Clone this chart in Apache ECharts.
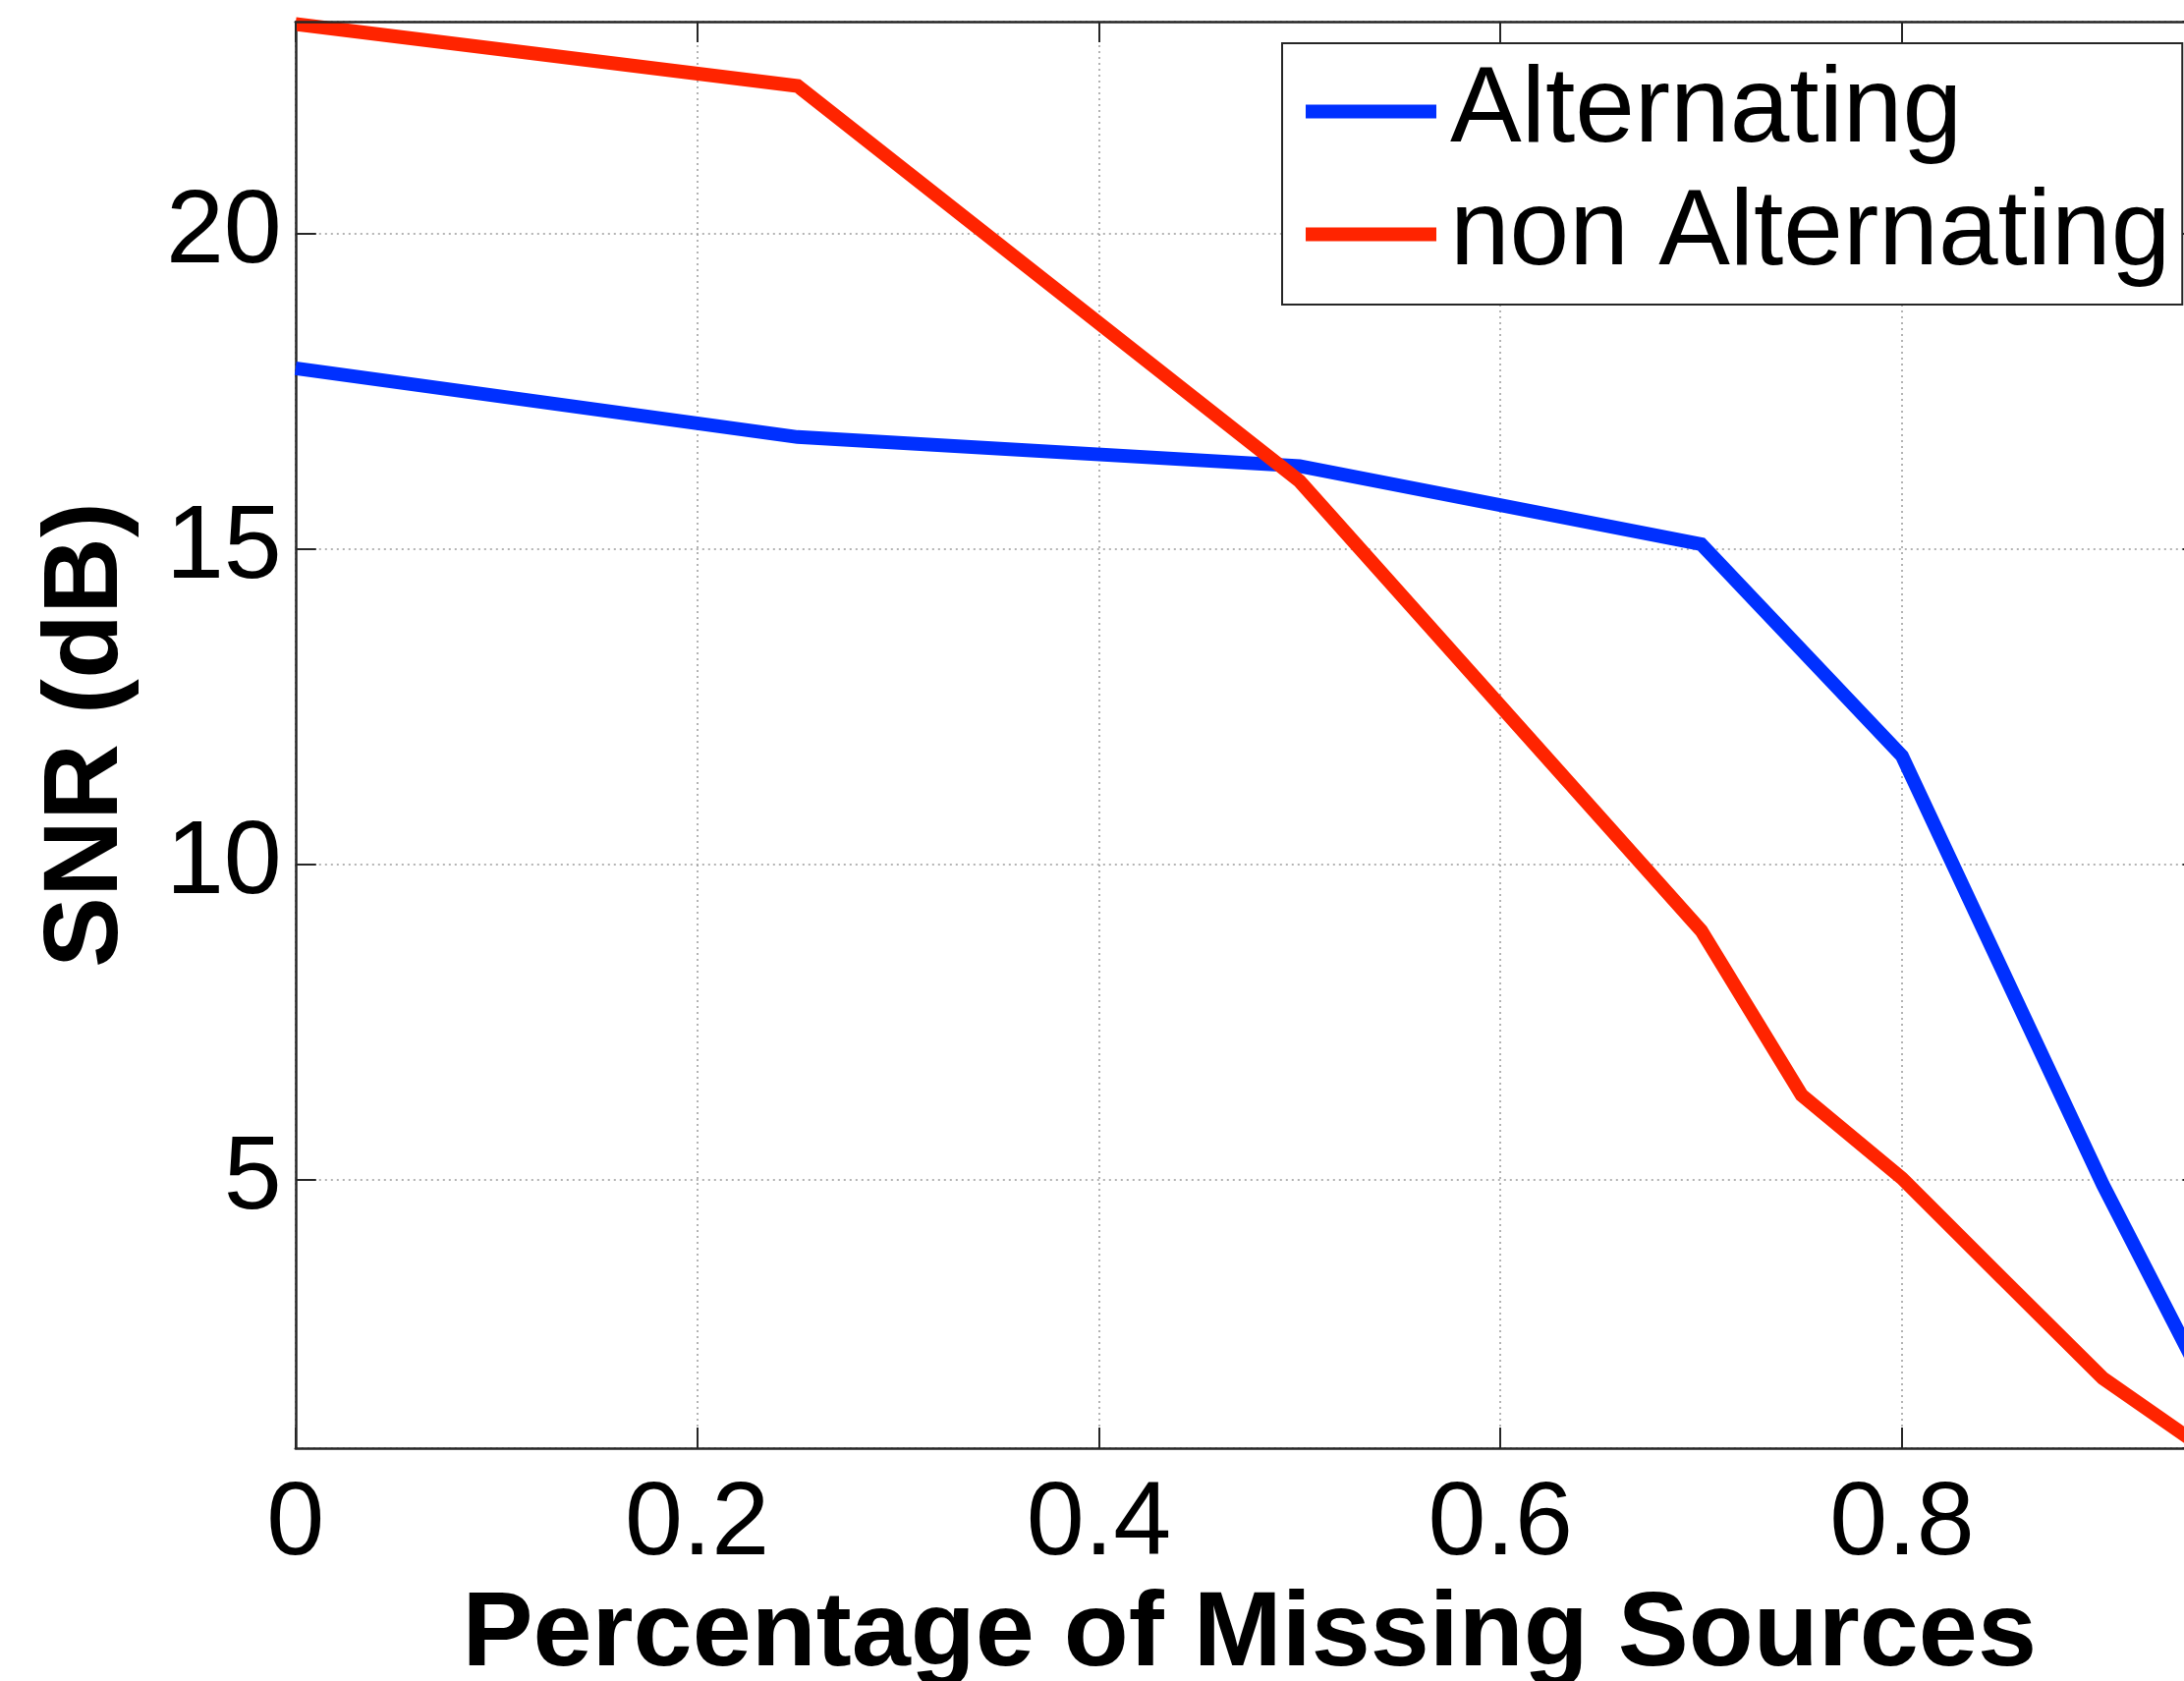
<!DOCTYPE html>
<html>
<head>
<meta charset="utf-8">
<title>SNR vs. percentage of missing sources</title>
<script src="https://cdn.jsdelivr.net/npm/echarts@6/dist/echarts.min.js"></script>
<style>
  html, body { margin: 0; padding: 0; background: #ffffff; }
  #chart { width: 2223px; height: 1711px; }
</style>
</head>
<body>
<div id="chart"></div>
<script>
// Fraction of missing sources at each breakpoint of the curves
const alternatingX = [0, 0.25, 0.5, 0.7, 0.8, 0.9, 0.95];
const alternatingSNR = [17.87, 16.78, 16.32, 15.08, 11.72, 4.92, 1.82];

const nonAlternatingX = [0, 0.25, 0.5, 0.7, 0.75, 0.8, 0.85, 0.9, 0.95];
const nonAlternatingSNR = [23.33, 22.35, 16.08, 8.95, 6.34, 5.02, 3.43, 1.85, 0.74];

const seriesNames = ['Alternating', 'non Alternating'];
const seriesColors = ['#0030ff', '#ff2400'];

// Axis extents (tight to the data)
const xExtent = [0, 0.95];
const yExtent = [0.74, 23.37];

const axisTitleX = 'Percentage of Missing Sources';
const axisTitleY = 'SNR (dB)';

const FONT = '"Liberation Sans", Arial, Helvetica, sans-serif';
const AXIS_COLOR = '#262626';
const GRID_COLOR = '#9a9a9a';

function pairs(xs, ys) {
  return xs.map((x, i) => [x, ys[i]]);
}

// Box-style axis pieces: fresh objects for every axis
function boxAxisLine() {
  return { show: true, onZero: false, lineStyle: { color: AXIS_COLOR, width: 2.5 } };
}
function boxAxisTick() {
  return { show: true, inside: true, length: 21, lineStyle: { color: AXIS_COLOR, width: 2 } };
}
function dottedGrid() {
  return { show: true, lineStyle: { color: GRID_COLOR, width: 1.5, type: [2, 4] } };
}

const chart = echarts.init(document.getElementById('chart'), null, { renderer: 'canvas' });

chart.setOption({
  animation: false,
  backgroundColor: '#ffffff',
  textStyle: { fontFamily: FONT },
  // The plot box runs slightly past the right edge of the canvas
  grid: {
    left: 300.8,
    top: 22,
    width: 1941.8,
    height: 1452,
    containLabel: false,
    outerBoundsMode: 'none'
  },
  legend: {
    data: seriesNames,
    orient: 'vertical',
    left: 1305,
    top: 44,
    padding: [15, 12, 17, 24],
    itemGap: 16,
    itemWidth: 133,
    itemHeight: 14,
    icon: 'rect',
    backgroundColor: '#ffffff',
    borderColor: AXIS_COLOR,
    borderWidth: 2,
    borderRadius: 0,
    textStyle: {
      fontFamily: FONT,
      fontSize: 109,
      lineHeight: 109,
      color: '#000000',
      padding: [0, 0, 0, 9]
    }
  },
  xAxis: [
    {
      type: 'value',
      position: 'bottom',
      min: xExtent[0],
      max: xExtent[1],
      axisLine: boxAxisLine(),
      axisTick: boxAxisTick(),
      splitLine: dottedGrid(),
      axisLabel: {
        show: true,
        fontFamily: FONT,
        fontSize: 106,
        color: '#000000',
        margin: 26,
        showMaxLabel: false
      },
      name: axisTitleX,
      nameLocation: 'middle',
      nameGap: 118,
      nameTextStyle: {
        fontFamily: FONT,
        fontSize: 108,
        fontWeight: 'bold',
        color: '#000000'
      }
    },
    {
      type: 'value',
      position: 'top',
      min: xExtent[0],
      max: xExtent[1],
      z: 10,
      axisLine: boxAxisLine(),
      axisTick: boxAxisTick(),
      axisLabel: { show: false },
      splitLine: { show: false }
    }
  ],
  yAxis: [
    {
      type: 'value',
      position: 'left',
      min: yExtent[0],
      max: yExtent[1],
      axisLine: boxAxisLine(),
      axisTick: boxAxisTick(),
      splitLine: dottedGrid(),
      axisLabel: {
        show: true,
        fontFamily: FONT,
        fontSize: 106,
        color: '#000000',
        margin: 14,
        showMinLabel: false,
        showMaxLabel: false
      },
      name: axisTitleY,
      nameLocation: 'middle',
      nameGap: 158,
      nameTextStyle: {
        fontFamily: FONT,
        fontSize: 108,
        fontWeight: 'bold',
        color: '#000000'
      }
    },
    {
      type: 'value',
      position: 'right',
      min: yExtent[0],
      max: yExtent[1],
      z: 10,
      axisLine: boxAxisLine(),
      axisTick: boxAxisTick(),
      axisLabel: { show: false },
      splitLine: { show: false }
    }
  ],
  series: [
    {
      name: seriesNames[0],
      type: 'line',
      xAxisIndex: 0,
      yAxisIndex: 0,
      data: pairs(alternatingX, alternatingSNR),
      symbol: 'none',
      showSymbol: false,
      color: seriesColors[0],
      itemStyle: { color: seriesColors[0] },
      lineStyle: { color: seriesColors[0], width: 14, join: 'miter' }
    },
    {
      name: seriesNames[1],
      type: 'line',
      xAxisIndex: 0,
      yAxisIndex: 0,
      data: pairs(nonAlternatingX, nonAlternatingSNR),
      symbol: 'none',
      showSymbol: false,
      color: seriesColors[1],
      itemStyle: { color: seriesColors[1] },
      lineStyle: { color: seriesColors[1], width: 14, join: 'miter' }
    }
  ]
});
</script>
</body>
</html>
